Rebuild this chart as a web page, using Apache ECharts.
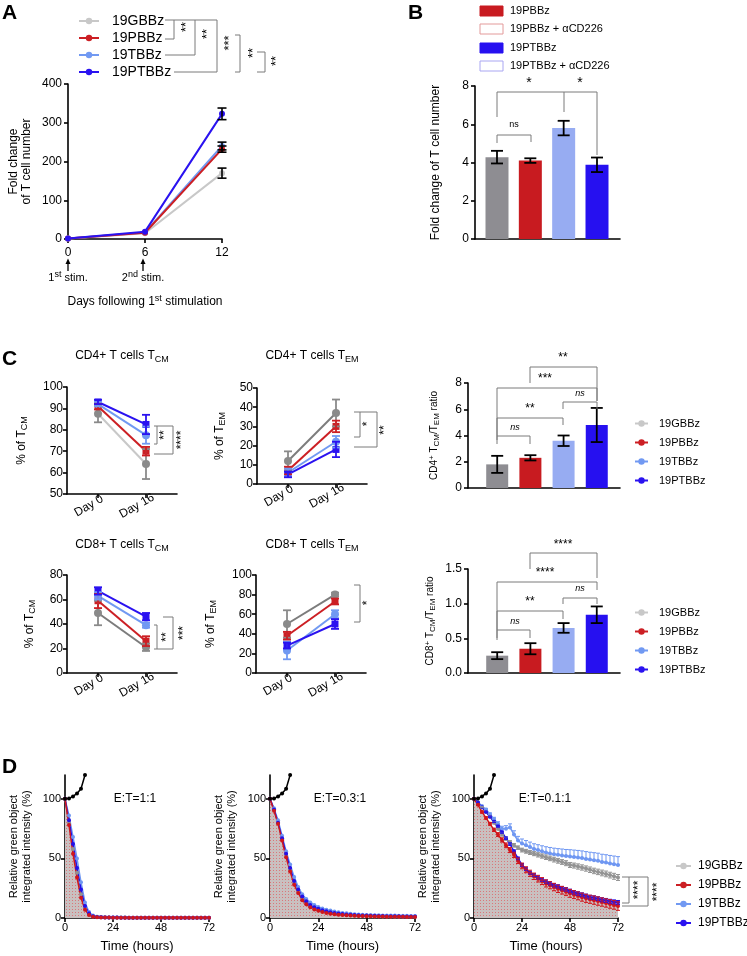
<!DOCTYPE html>
<html><head><meta charset="utf-8">
<script src="https://cdn.jsdelivr.net/npm/echarts@6/dist/echarts.min.js"></script>
<style>html,body{margin:0;padding:0;background:#fff}#c{width:747px;height:956px}</style>
</head><body><div id="c"></div>
<script>
// ================= DATA =================
const groups = ['19GBBz', '19PBBz', '19TBBz', '19PTBBz'];

// Panel A : fold change of T cell number
const aDays = [0, 6, 12];
const aGB = [1, 15, 170], aGBe = [0, 0, 13];
const aPB = [1, 16, 232], aPBe = [0, 0, 8];
const aTB = [1, 17, 240], aTBe = [0, 0, 10];
const aPT = [1, 19, 323], aPTe = [0, 0, 15];

// Panel B
const bLabels = ['19PBBz', '19PBBz + \u03b1CD226', '19PTBBz', '19PTBBz + \u03b1CD226'];
const bMean = [4.28, 4.1, 5.8, 3.88];
const bErr = [0.33, 0.12, 0.38, 0.38];

// Panel C : memory subsets
const cDays = ['Day 0', 'Day 16'];
const c4cmG = [87.5, 64], c4cmGe = [4, 7];
const c4cmP = [91, 70], c4cmPe = [1.5, 2];
const c4cmT = [92, 77.5], c4cmTe = [1, 4];
const c4cmPT = [93, 82.5], c4cmPTe = [1, 4.5];
const c4emG = [12, 37], c4emGe = [5, 7];
const c4emP = [7, 30], c4emPe = [2, 3];
const c4emT = [6, 22], c4emTe = [2, 3];
const c4emPT = [5, 18], c4emPTe = [1.5, 4];
const c8cmG = [49, 21], c8cmGe = [10, 3];
const c8cmP = [59, 26], c8cmPe = [6, 4];
const c8cmT = [63, 39], c8cmTe = [3, 2];
const c8cmPT = [67, 46], c8cmPTe = [3, 3];
const c8emG = [50, 80], c8emGe = [14, 2];
const c8emP = [38, 73], c8emPe = [4, 3];
const c8emT = [23, 60], c8emTe = [9, 4];
const c8emPT = [28, 50], c8emPTe = [3, 5];
const r4Mean = [1.8, 2.3, 3.6, 4.8], r4Err = [0.65, 0.2, 0.4, 1.3];
const r8Mean = [0.25, 0.35, 0.65, 0.84], r8Err = [0.05, 0.08, 0.07, 0.12];

// Panel D : killing curves (time in hours)
const dTime = [0,2,4,6,8,10,12,14,16,18,20,22,24,26,28,30,32,34,36,38,40,42,44,46,48,50,52,54,56,58,60,62,64,66,68,70,72];
const dTargetT = [0, 2, 4, 6, 8, 10];
const dTargetV = [100, 100.3, 102, 104.5, 108.5, 120];
const d1G  = [100,80,58,38,20,8,3,1.5,1,0.8,0.6,0.5,0.5,0.4,0.4,0.4,0.3,0.3,0.3,0.3,0.3,0.3,0.2,0.2,0.2,0.2,0.2,0.2,0.2,0.2,0.2,0.2,0.2,0.2,0.2,0.2,0.2];
const d1T  = [100,86,68,50,30,13,5,2,1,0.8,0.6,0.5,0.5,0.4,0.4,0.4,0.3,0.3,0.3,0.3,0.3,0.3,0.2,0.2,0.2,0.2,0.2,0.2,0.2,0.2,0.2,0.2,0.2,0.2,0.2,0.2,0.2];
const d1P  = [100,78,54,34,17,7,2.5,1,0.7,0.5,0.4,0.4,0.3,0.3,0.3,0.3,0.2,0.2,0.2,0.2,0.2,0.2,0.2,0.2,0.2,0.2,0.2,0.2,0.2,0.2,0.2,0.2,0.2,0.2,0.2,0.2,0.2];
const d1PT = [100,82,62,42,24,10,4,1.5,0.9,0.7,0.5,0.5,0.4,0.4,0.3,0.3,0.3,0.3,0.3,0.3,0.3,0.3,0.2,0.2,0.2,0.2,0.2,0.2,0.2,0.2,0.2,0.2,0.2,0.2,0.2,0.2,0.2];
const d2G  = [100,91,80,66,52,40,29,22,16,12.5,10,8.2,7,6,5,4.3,3.8,3.4,3,2.7,2.4,2.2,2,1.8,1.7,1.6,1.5,1.4,1.3,1.2,1.2,1.1,1.1,1,1,1,1];
const d2T  = [100,92,82,69,56,45,34.5,26,20,16,13,11,9.3,8,7,6.2,5.4,4.8,4.3,3.9,3.5,3.2,3,2.8,2.6,2.5,2.4,2.3,2.2,2.1,2,2,1.9,1.8,1.8,1.7,1.7];
const d2P  = [100,90,79,65,51,39,28,21,15,11.5,9,7.2,6,5,4.2,3.6,3.2,2.8,2.5,2.3,2.1,1.9,1.7,1.6,1.5,1.4,1.3,1.2,1.2,1.1,1.1,1,1,1,0.9,0.9,0.9];
const d2PT = [100,91,80,67,54,42,31,24,18,14,11,9,7.8,6.6,5.6,4.9,4.3,3.8,3.4,3,2.7,2.5,2.3,2.1,2,1.9,1.8,1.7,1.6,1.5,1.5,1.4,1.4,1.3,1.3,1.2,1.2];
const d3G  = [100,97,93,89,85,80,75,70,66.5,63.5,61,59,57,56,55,54,53,52,51,50,49,48,47,46,44.5,44,43.2,42.4,41.5,40.5,39.5,38.7,37.8,37,36,35,34];
const d3T  = [100,97,94,91,87,83,79,75,75,76,70,65,62.5,61,59.5,58,57,56,55,54.2,53.5,53,52.5,52,51.7,51.2,50.8,50.3,49.6,49,48.5,48,47,46.5,45.8,45.2,44.5];
const d3P  = [100,95,89,84,79,74,70,65.5,61,57,53,48,43.7,40.5,37.5,35,33,31,29,27.5,26,24.5,23.3,22,20.7,19.6,18.6,17.5,16.5,15.7,15,14.2,13.4,12.6,11.8,11,10];
const d3PT = [100,97,93,89,85,81,77,72,67,62,56,50,44.5,41,38,36,34,32,30.5,29,27.5,26.5,25,24,22.7,21.5,20.5,19.5,18.5,17.5,17,16.2,15.3,14.7,14,13.5,13];
const d3Ge  = [0,0.3,0.5,0.6,0.8,1,1.1,1.2,1.3,1.4,1.5,1.5,1.6,1.6,1.7,1.7,1.8,1.8,1.9,1.9,2,2,2,2.1,2.1,2.1,2.2,2.2,2.2,2.3,2.3,2.3,2.4,2.4,2.4,2.5,2.5];
const d3Te  = [0,0.5,0.8,1,1.2,1.5,1.8,2,2.5,3,3.2,3.5,3.8,4,4.2,4.3,4.5,4.6,4.8,5,5.1,5.2,5.4,5.5,5.6,5.8,5.9,6,6.1,6.2,6.3,6.4,6.5,6.6,6.7,6.8,7];
const d3Pe  = [0,0.5,0.8,1,1.2,1.4,1.6,1.8,2,2.1,2.2,2.3,2.4,2.5,2.6,2.7,2.8,2.9,3,3,3.1,3.1,3.2,3.2,3.3,3.3,3.3,3.4,3.4,3.4,3.5,3.5,3.5,3.5,3.6,3.6,3.6];
const d3PTe = [0,0.3,0.4,0.5,0.6,0.7,0.8,0.9,1,1,1.1,1.1,1.2,1.2,1.2,1.3,1.3,1.3,1.4,1.4,1.4,1.4,1.5,1.5,1.5,1.5,1.5,1.6,1.6,1.6,1.6,1.6,1.7,1.7,1.7,1.7,1.7];
const dRatios = ['E:T=1:1', 'E:T=0.3:1', 'E:T=0.1:1'];

// ================= STYLE / LAYOUT =================
const FONT = "'Liberation Sans', Arial, Helvetica, sans-serif";
const COL = {G:'#c8c8c8', Gd:'#7c7c7c', Gm:'#8a8a8a', P:'#cc1f24', T:'#7199f2', PT:'#2a12f0'};
const barCols = ['#8e8d92', '#c81b20', '#97acf2', '#2610f0'];
const RICH = {
  sub:{fontSize:9, fontFamily:FONT, color:'#000', verticalAlign:'bottom', lineHeight:9},
  sup:{fontSize:9, fontFamily:FONT, color:'#000', verticalAlign:'top', lineHeight:9},
  sub8:{fontSize:8, fontFamily:FONT, color:'#000', verticalAlign:'bottom', lineHeight:8},
  sup8:{fontSize:8, fontFamily:FONT, color:'#000', verticalAlign:'top', lineHeight:8}
};

function deepMerge(a, b) {
  const o = Object.assign({}, a);
  for (const k in b) {
    const bv = b[k];
    if (bv && typeof bv === 'object' && !Array.isArray(bv) && a[k] && typeof a[k] === 'object' && !Array.isArray(a[k])) o[k] = deepMerge(a[k], bv);
    else o[k] = bv;
  }
  return o;
}
function axis(gridIndex, extra) {
  return deepMerge({
    gridIndex, type:'value',
    axisLine:{show:true, onZero:false, lineStyle:{color:'#000', width:1.6}},
    axisTick:{show:true, inside:false, length:4, lineStyle:{color:'#000', width:1.6}},
    axisLabel:{show:true, color:'#000', fontFamily:FONT, fontSize:12, margin:4},
    splitLine:{show:false},
    nameLocation:'middle',
    nameTextStyle:{color:'#000', fontFamily:FONT, fontSize:12}
  }, extra || {});
}

const grids = [
  {left:68, top:84, width:154, height:155},   // 0 A
  {left:475, top:86, width:145, height:153},  // 1 B
  {left:67, top:387, width:110, height:107},  // 2 CD4 TCM
  {left:257, top:388, width:110, height:96},  // 3 CD4 TEM
  {left:468, top:383, width:152, height:105}, // 4 CD4 ratio
  {left:67, top:575, width:110, height:98},   // 5 CD8 TCM
  {left:256, top:575, width:110, height:98},  // 6 CD8 TEM
  {left:468, top:569, width:152, height:104}, // 7 CD8 ratio
  {left:65, top:775, width:144, height:143},  // 8 D1
  {left:270, top:775, width:145, height:143}, // 9 D2
  {left:474, top:775, width:144, height:143}  // 10 D3
].map(g => Object.assign({outerBoundsMode:'none', containLabel:false}, g));

const dayAxis = (gi) => axis(gi, {min:-0.646, max:1.646,
  axisTick:{customValues:[0, 1]},
  axisLabel:{customValues:[-0.19, 0.81], rotate:30, align:'center', verticalAlign:'middle', margin:12,
    formatter: v => cDays[Math.round(v + 0.19)]}});
const barAxis = (gi, mn, mx) => axis(gi, {min:mn, max:mx, axisTick:{show:false}, axisLabel:{show:false}});
const dAxisX = (gi) => axis(gi, {min:0, max:72, interval:24, name:'Time (hours)', nameGap:22,
  axisLabel:{fontSize:11}, nameTextStyle:{fontSize:13}});
const dAxisY = (gi) => axis(gi, {min:0, max:120, axisTick:{customValues:[0,50,100]},
  axisLabel:{customValues:[0,50,100], fontSize:11},
  name:'Relative green object\nintegrated intensity (%)', nameGap:32, nameTextStyle:{fontSize:11, lineHeight:13}});

const xAxes = [
  axis(0, {min:0, max:12, interval:6, axisLabel:{margin:8}}),
  barAxis(1, 0.34, 4.69),
  dayAxis(2), dayAxis(3),
  barAxis(4, 0.12, 4.70),
  dayAxis(5), dayAxis(6),
  barAxis(7, 0.12, 4.70),
  dAxisX(8), dAxisX(9), dAxisX(10)
];
const tcmName = (s) => ({name:'% of T{sub|' + s + '}', nameGap:0, nameTextStyle:{fontSize:12, lineHeight:15, rich:RICH}});
const yAxes = [
  axis(0, {min:0, max:400, interval:100, name:'Fold change\nof T cell number', nameGap:35, nameTextStyle:{lineHeight:13}, axisLabel:{margin:6}}),
  axis(1, {min:0, max:8, interval:2, name:'Fold change of T cell number', nameGap:33, axisLabel:{margin:6}}),
  axis(2, deepMerge(tcmName('CM'), {min:50, max:100, interval:10, nameGap:38})),
  axis(3, deepMerge(tcmName('EM'), {min:0, max:50, interval:10, nameGap:30})),
  axis(4, {min:0, max:8, interval:2, name:'CD4{sup8|+} T{sub8|CM}/T{sub8|EM} ratio', nameGap:27, nameTextStyle:{fontSize:10, lineHeight:13, rich:RICH}, axisLabel:{margin:6}}),
  axis(5, deepMerge(tcmName('CM'), {min:0, max:80, interval:20, nameGap:30})),
  axis(6, deepMerge(tcmName('EM'), {min:0, max:100, interval:20, nameGap:38})),
  axis(7, {min:0, max:1.5, interval:0.5, name:'CD8{sup8|+} T{sub8|CM}/T{sub8|EM} ratio', nameGap:31, nameTextStyle:{fontSize:10, lineHeight:13, rich:RICH},
    axisLabel:{formatter: v => v.toFixed(1), margin:6}}),
  dAxisY(8), dAxisY(9), dAxisY(10)
];

// ================= SERIES =================
const series = [];
function errSeries(gi, pts, color, cap, lw, z) {
  series.push({type:'custom', name:'err', xAxisIndex:gi, yAxisIndex:gi, silent:true, z:z || 5,
    data:pts, encode:{x:0, y:[1, 2]},
    renderItem:(p, api) => {
      const a = api.coord([api.value(0), api.value(1)]);
      const b = api.coord([api.value(0), api.value(2)]);
      if (Math.abs(a[1] - b[1]) < 1) return {type:'group', children:[]};
      const h = cap / 2, st = {stroke:color, lineWidth:lw};
      const ch = [{type:'line', shape:{x1:a[0], y1:a[1], x2:b[0], y2:b[1]}, style:st},
                  {type:'line', shape:{x1:b[0]-h, y1:b[1], x2:b[0]+h, y2:b[1]}, style:st}];
      if (api.value(1) !== api.value(2) && p.seriesName !== 'errUp') ch.push({type:'line', shape:{x1:a[0]-h, y1:a[1], x2:a[0]+h, y2:a[1]}, style:st});
      return {type:'group', children:ch};
    }});
}
function symErr(xs, ys, es) { return xs.map((x, i) => [x, ys[i] - es[i], ys[i] + es[i]]); }
function upErr(xs, ys, es) { return xs.map((x, i) => [x, ys[i], ys[i] + es[i]]); }
function lineSeries(name, gi, xs, ys, o) {
  series.push({type:'line', name, xAxisIndex:gi, yAxisIndex:gi, silent:true, z:o.z || 3,
    data:xs.map((x, i) => [x, ys[i]]), symbol:o.symbol || 'circle', symbolSize:o.size || 6, showSymbol:true,
    lineStyle:{color:o.line || o.color, width:o.lw || 2}, itemStyle:{color:o.color},
    emphasis:{disabled:true}, areaStyle:o.area});
}
function barSeries(gi, vals, errs, w) {
  series.push({type:'bar', name:'bar' + gi, xAxisIndex:gi, yAxisIndex:gi, silent:true, barWidth:w, z:2,
    data:vals.map((v, i) => ({value:[i + 1, v], itemStyle:{color:barCols[i]}}))});
  errSeries(gi, vals.map((v, i) => [i + 1, v - errs[i], v + errs[i]]), '#000', 12, 1.8, 6);
}

// Panel A
lineSeries(groups[0], 0, aDays, aGB, {color:COL.G});
lineSeries(groups[2], 0, aDays, aTB, {color:COL.T});
lineSeries(groups[1], 0, aDays, aPB, {color:COL.P});
lineSeries(groups[3], 0, aDays, aPT, {color:COL.PT});
errSeries(0, symErr(aDays, aGB, aGBe), '#000', 9, 1.6);
errSeries(0, symErr(aDays, aTB, aTBe), '#000', 9, 1.6);
errSeries(0, symErr(aDays, aPB, aPBe), '#000', 9, 1.6);
errSeries(0, symErr(aDays, aPT, aPTe), '#000', 9, 1.6);

// Panel B
barSeries(1, bMean, bErr, 23);

// Panel C line plots
const cx = [0, 1];
function cPlot(gi, G, Ge, P, Pe, T, Te, PT, PTe, gLine) {
  lineSeries(groups[0], gi, cx, G, {color:COL.Gm, line:gLine, size:8});
  lineSeries(groups[1], gi, cx, P, {color:COL.P, symbol:'rect', size:7});
  lineSeries(groups[2], gi, cx, T, {color:COL.T, size:8});
  lineSeries(groups[3], gi, cx, PT, {color:COL.PT, symbol:'rect', size:7});
  errSeries(gi, symErr(cx, G, Ge), COL.Gm, 8, 1.8);
  errSeries(gi, symErr(cx, P, Pe), COL.P, 8, 1.8);
  errSeries(gi, symErr(cx, T, Te), COL.T, 8, 1.8);
  errSeries(gi, symErr(cx, PT, PTe), COL.PT, 8, 1.8);
}
cPlot(2, c4cmG, c4cmGe, c4cmP, c4cmPe, c4cmT, c4cmTe, c4cmPT, c4cmPTe, COL.G);
cPlot(3, c4emG, c4emGe, c4emP, c4emPe, c4emT, c4emTe, c4emPT, c4emPTe, COL.Gd);
cPlot(5, c8cmG, c8cmGe, c8cmP, c8cmPe, c8cmT, c8cmTe, c8cmPT, c8cmPTe, COL.Gd);
cPlot(6, c8emG, c8emGe, c8emP, c8emPe, c8emT, c8emTe, c8emPT, c8emPTe, COL.Gd);
barSeries(4, r4Mean, r4Err, 22);
barSeries(7, r8Mean, r8Err, 22);

// Panel D
const pc = document.createElement('canvas'); pc.width = 3; pc.height = 3;
const pg = pc.getContext('2d');
pg.fillStyle = '#c9c0c0'; pg.fillRect(0, 0, 3, 3);
pg.fillStyle = '#d9777a'; pg.fillRect(0, 0, 1, 1);
const DCOL = {G:'#939393', T:'#6f97f2', P:'#d0161c', PT:'#2310e8'};
function dPlot(gi, G, T, P, PT) {
  series.push({type:'line', name:'fill', xAxisIndex:gi, yAxisIndex:gi, silent:true, z:1,
    data:dTime.map((x, i) => [x, P[i]]), symbol:'none', lineStyle:{width:0}, areaStyle:{color:{image:pc, repeat:'repeat'}, opacity:1}});
  lineSeries(groups[0], gi, dTime, G, {color:DCOL.G, size:4, lw:1.5});
  lineSeries(groups[2], gi, dTime, T, {color:DCOL.T, size:4, lw:1.5});
  lineSeries(groups[3], gi, dTime, PT, {color:DCOL.PT, size:4, lw:1.5});
  lineSeries(groups[1], gi, dTime, P, {color:DCOL.P, size:4, lw:1.5});
  lineSeries('target', gi, dTargetT, dTargetV, {color:'#000', size:4, lw:1.5});
}
dPlot(8, d1G, d1T, d1P, d1PT);
dPlot(9, d2G, d2T, d2P, d2PT);
dPlot(10, d3G, d3T, d3P, d3PT);
errSeries(10, symErr(dTime, d3G, d3Ge), DCOL.G, 4, 1);
errSeries(10, upErr(dTime, d3T, d3Te), DCOL.T, 4, 1);
errSeries(10, symErr(dTime, d3PT, d3PTe), DCOL.PT, 4, 1);
errSeries(10, symErr(dTime, d3P, d3Pe), DCOL.P, 4, 1);

// ================= LEGENDS =================
const legCols = [COL.G, COL.P, COL.T, COL.PT];
function legend(left, top, fs, iw, gap, pad) {
  return {selectedMode:false, orient:'vertical', left, top, padding:0, itemWidth:iw, itemHeight:8, itemGap:gap,
    textStyle:{fontFamily:FONT, fontSize:fs, color:'#000', padding:[0, 0, 0, pad]},
    data:groups.map((g, i) => ({name:g, itemStyle:{color:legCols[i]}, lineStyle:{color:legCols[i], width:2}}))};
}
const legends = [
  legend(78, 14, 14, 20, 3, 8),
  legend(634, 418, 11, 13, 8, 6),
  legend(634, 607, 11, 13, 8, 6),
  legend(675, 860, 12, 15, 7, 2)
];

// ================= ANNOTATIONS =================
const G = [];
function T(x, y, text, o) {
  o = o || {};
  G.push({type:'text', x, y, rotation:o.rot || 0, z:100, silent:true,
    style:{text, fill:o.color || '#000', fontFamily:FONT, fontSize:o.size || 12, fontWeight:o.weight || 'normal',
      fontStyle:o.italic ? 'italic' : 'normal', align:o.align || 'center', verticalAlign:o.va || 'middle',
      lineHeight:o.lh, rich:o.rich}});
}
function L(points, color, lw) {
  G.push({type:'polyline', z:100, silent:true, shape:{points}, style:{stroke:color || '#7a7a7a', lineWidth:lw || 1, fill:null}});
}
const R90 = Math.PI / 2;
// panel letters
T(2, 3, 'A', {size:21, weight:'bold', align:'left', va:'top'});
T(408, 3, 'B', {size:21, weight:'bold', align:'left', va:'top'});
T(2, 349, 'C', {size:21, weight:'bold', align:'left', va:'top'});
T(2, 757, 'D', {size:21, weight:'bold', align:'left', va:'top'});

// Panel A extras
L([[165, 20], [217, 20]]);
L([[174, 20], [174, 39], [165, 39]]);
L([[195, 20], [195, 55], [165, 55]]);
L([[217, 20], [217, 72], [174, 72]]);
L([[235, 35], [240, 35], [240, 72], [235, 72]]);
L([[257, 52], [265, 52], [265, 72], [257, 72]]);
T(186, 27, '**', {rot:R90, size:13});
T(207, 34, '**', {rot:R90, size:13});
T(229, 43, '***', {rot:R90, size:13});
T(253, 53, '**', {rot:R90, size:13});
T(276, 61, '**', {rot:R90, size:13});
[68, 143].forEach(x => {
  L([[x, 271], [x, 263]], '#000', 1.3);
  G.push({type:'polygon', z:100, silent:true, shape:{points:[[x - 2.5, 264], [x, 258.5], [x + 2.5, 264]]}, style:{fill:'#000'}});
});
T(68, 278, '1{sup|st} stim.', {size:11, rich:RICH, lh:16});
T(143, 278, '2{sup|nd} stim.', {size:11, rich:RICH, lh:16});
T(145, 302, 'Days following 1{sup|st} stimulation', {size:12, rich:RICH, lh:16});

// Panel B legend + brackets
[[6, barCols[1], null], [24, '#fff', '#e39a9a'], [43, barCols[3], null], [61, '#fff', '#a9a6f2']].forEach((r, i) => {
  G.push({type:'rect', z:100, silent:true, shape:{x:480, y:r[0], width:23, height:10},
    style:{fill:r[1], stroke:r[2] || r[1], lineWidth:1}});
  T(510, r[0] + 5, bLabels[i], {size:11, align:'left'});
});
L([[497, 143], [497, 135], [531, 135], [531, 142]]);
T(514, 125, 'ns', {size:9});
L([[497, 117], [497, 92], [597, 92], [597, 155]]);
L([[564, 92], [564, 112]]);
T(529, 83, '*', {size:14});
T(580, 83, '*', {size:14});

// Panel C titles
const titleRich = {sub:{fontSize:9, fontFamily:FONT, color:'#000', verticalAlign:'bottom', lineHeight:9}};
T(122, 356, 'CD4+ T cells T{sub|CM}', {size:12, rich:titleRich, lh:16});
T(312, 356, 'CD4+ T cells T{sub|EM}', {size:12, rich:titleRich, lh:16});
T(122, 545, 'CD8+ T cells T{sub|CM}', {size:12, rich:titleRich, lh:16});
T(312, 545, 'CD8+ T cells T{sub|EM}', {size:12, rich:titleRich, lh:16});
// C line-plot brackets
L([[154, 426], [157, 426], [157, 444], [154, 444]]);
L([[157, 426], [173, 426], [173, 454], [154, 454]]);
T(165, 435, '**', {rot:R90, size:12});
T(182, 440, '****', {rot:R90, size:12});
L([[354, 412], [360, 412], [360, 437], [354, 437]]);
L([[360, 412], [377, 412], [377, 447], [354, 447]]);
T(368, 424, '*', {rot:R90, size:12});
T(385, 430, '**', {rot:R90, size:12});
L([[154, 625], [157, 625], [157, 649], [154, 649]]);
L([[163, 617], [173, 617], [173, 649], [157, 649]]);
T(167, 637, '**', {rot:R90, size:12});
T(184, 633, '***', {rot:R90, size:12});
L([[354, 585], [360, 585], [360, 622], [354, 622]]);
T(368, 603, '*', {rot:R90, size:12});
// C ratio brackets
function rb(x1, x2, top, b1, b2, txt, tx, ty, italic) {
  L([[x1, b1], [x1, top], [x2, top], [x2, b2]]);
  T(tx, ty, txt, {size:italic ? 9 : 12, italic});
}
rb(530, 597, 367, 383, 401, '**', 563, 358);
rb(497, 597, 388, 440, 401, '***', 545, 379);
rb(563, 597, 402, 409, 409, 'ns', 580, 393, true);
rb(497, 563, 418, 436, 425, '**', 530, 409);
rb(497, 530, 436, 444, 444, 'ns', 515, 427, true);
rb(530, 597, 553, 569, 578, '****', 563, 545);
rb(497, 597, 582, 640, 590, '****', 545, 573);
rb(563, 597, 598, 604, 604, 'ns', 580, 588, true);
rb(497, 563, 611, 630, 619, '**', 530, 602);
rb(497, 530, 630, 638, 638, 'ns', 515, 621, true);

// Panel D labels & brackets
T(135, 799, dRatios[0], {size:12});
T(340, 799, dRatios[1], {size:12});
T(545, 799, dRatios[2], {size:12});
L([[622, 877], [629, 877], [629, 903], [622, 903]]);
L([[629, 877], [648, 877], [648, 906], [622, 906]]);
T(639, 890, '****', {rot:R90, size:12});
T(658, 892, '****', {rot:R90, size:12});

// ================= CHART =================
const chart = echarts.init(document.getElementById('c'), null, {renderer:'canvas'});
chart.setOption({
  animation:false, backgroundColor:'#fff',
  textStyle:{fontFamily:FONT},
  grid:grids, xAxis:xAxes, yAxis:yAxes, series, legend:legends, graphic:{elements:G}
});
</script></body></html>
